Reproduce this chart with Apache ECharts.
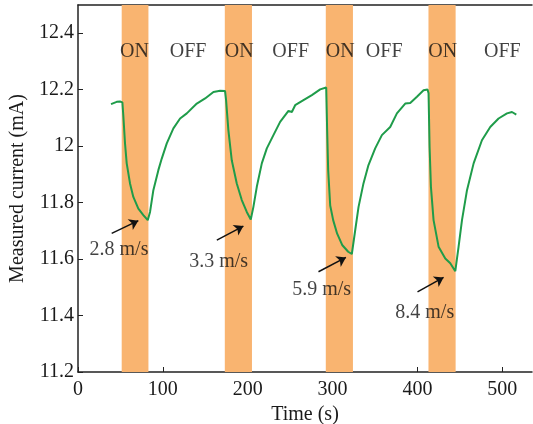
<!DOCTYPE html>
<html>
<head>
<meta charset="utf-8">
<script src="https://cdn.jsdelivr.net/npm/echarts@6/dist/echarts.min.js"></script>
<style>
  html, body { margin: 0; padding: 0; background: #fff; }
  #chart { width: 533px; height: 424px; }
</style>
</head>
<body>
<div id="chart"></div>
<script>
// measured current trace (time in s, current in mA)
const time = [
  38.9, 40.9, 45.6, 49.5, 52.3, 53.5, 55.4, 57.4, 61.3, 65.2, 71.1, 77, 82.2,
  84.9, 88.8, 94.7, 98.7, 104.6, 112.4, 120.3, 128.2, 140, 149.8, 159.6, 167.5, 173.3,
  174.5, 177.2, 181.2, 187.1, 193, 198.9, 203.6,
  206.7, 210.7, 216.6, 222.5, 230.3, 238.2, 248, 252, 255.9, 265.7, 275.6, 285.4, 292.5,
  293.6, 294.8, 297.2, 300.7, 305.4, 311.3, 318.4, 322.7,
  326.7, 330.6, 336.4, 342.3, 350.2, 358.1, 367.9, 375.8, 385.6, 391.5, 399.4, 407.2, 411.9, 413.1,
  414.3, 415.9, 419, 424.9, 432.8, 438.7, 444.6,
  448.5, 452.5, 458.4, 466.2, 476, 485.8, 495.6, 505.5, 511.4, 516.5
]
const current = [
  12.149, 12.153, 12.157, 12.158, 12.155, 12.104, 12.01, 11.939, 11.868, 11.82, 11.779, 11.756, 11.738,
  11.767, 11.844, 11.915, 11.956, 12.01, 12.063, 12.098, 12.116, 12.151, 12.169, 12.192, 12.196, 12.195,
  12.163, 12.057, 11.95, 11.868, 11.809, 11.767, 11.74,
  11.785, 11.856, 11.939, 11.992, 12.039, 12.086, 12.125, 12.121, 12.145, 12.163, 12.181, 12.201, 12.208,
  12.057, 11.915, 11.79, 11.738, 11.69, 11.65, 11.626, 11.618,
  11.703, 11.785, 11.868, 11.933, 11.992, 12.039, 12.068, 12.116, 12.151, 12.153, 12.175, 12.198, 12.201, 12.187,
  11.998, 11.856, 11.738, 11.644, 11.602, 11.585, 11.557,
  11.644, 11.738, 11.844, 11.939, 12.021, 12.068, 12.098, 12.116, 12.121, 12.112
]

// fan ON periods
const onBands = [[51.5, 83], [173, 205], [292, 324], [413, 445]]

// ON / OFF captions [x, y, text]
const stateLabels = [
  [66.6, 12.333, 'ON'], [129.7, 12.333, 'OFF'],
  [189.9, 12.333, 'ON'], [250.6, 12.333, 'OFF'],
  [309, 12.333, 'ON'], [360.8, 12.333, 'OFF'],
  [429.8, 12.333, 'ON'], [500, 12.333, 'OFF']
]

// wind speed captions [x, y, text]
const speedLabels = [
  [48.3, 11.632, '2.8 m/s'],
  [165.7, 11.589, '3.3 m/s'],
  [287.1, 11.49, '5.9 m/s'],
  [408.6, 11.409, '8.4 m/s']
]

// arrows [[x1, y1], [x2, y2]]
const arrows = [
  [[39.7, 11.691], [71.1, 11.736]],
  [[163.6, 11.667], [194.9, 11.717]],
  [[283.4, 11.555], [315.7, 11.606]],
  [[400.1, 11.484], [430.8, 11.535]]
]

const xTicks = { min: 0, max: 535, interval: 100 }
const yTicks = { min: 11.2, max: 12.5, interval: 0.2 }

const font = 'Liberation Serif'
const textColor = '#1a1a1a'

const chart = echarts.init( document.getElementById( 'chart' ) )

const textSeries = ( name, rows ) => ( {
  name : name,
  type : 'scatter',
  z : 5,
  symbolSize : 1,
  itemStyle : { color : 'rgba(0,0,0,0)' },
  silent : true,
  data : rows,
  label : {
    show : true,
    position : 'inside',
    formatter : p => p.data[2],
    fontFamily : font,
    fontSize : 20,
    color : '#111'
  }
} )

chart.setOption( {
  animation : false,
  grid : {
    left : 78,
    right : 1,
    top : 5,
    bottom : 52,
    outerBoundsMode : 'none',
    containLabel : false
  },
  xAxis : [
    {
      type : 'value',
      min : xTicks.min,
      max : xTicks.max,
      interval : xTicks.interval,
      name : 'Time (s)',
      nameLocation : 'middle',
      nameGap : 22,
      nameTextStyle : { fontFamily : font, fontSize : 20, color : textColor },
      axisLine : { lineStyle : { color : '#222', width : 1.5 } },
      axisTick : { inside : true, length : 5, lineStyle : { color : '#222' } },
      axisLabel : {
        showMaxLabel : false,
        margin : 8,
        fontFamily : font,
        fontSize : 20,
        color : textColor
      },
      splitLine : { show : false }
    },
    {
      type : 'value',
      position : 'top',
      min : xTicks.min,
      max : xTicks.max,
      axisLine : { show : true, lineStyle : { color : '#222', width : 1.5 } },
      axisTick : { show : false },
      axisLabel : { show : false },
      splitLine : { show : false }
    }
  ],
  yAxis : {
    type : 'value',
    min : yTicks.min,
    max : yTicks.max,
    interval : yTicks.interval,
    name : 'Measured current (mA)',
    nameLocation : 'middle',
    nameGap : 44,
    nameTextStyle : { fontFamily : font, fontSize : 20, color : textColor },
    axisLine : { show : true, lineStyle : { color : '#222', width : 1.5 } },
    axisTick : { show : true, inside : true, length : 5, lineStyle : { color : '#222' } },
    axisLabel : {
      showMaxLabel : false,
      margin : 4,
      fontFamily : font,
      fontSize : 20,
      color : textColor
    },
    splitLine : { show : false }
  },
  series : [
    {
      name : 'bands',
      type : 'line',
      z : 1,
      data : [],
      markArea : {
        silent : true,
        itemStyle : { color : '#f9b470', opacity : 1 },
        data : onBands.map( b => [{ xAxis : b[0] }, { xAxis : b[1] }] )
      }
    },
    {
      name : 'current',
      type : 'line',
      z : 3,
      showSymbol : false,
      smooth : false,
      data : time.map( ( t, i ) => [t, current[i]] ),
      lineStyle : { color : '#1f9c4a', width : 2 },
      itemStyle : { color : '#1f9c4a' }
    },
    {
      name : 'arrows',
      type : 'line',
      z : 4,
      data : [],
      markLine : {
        silent : true,
        symbol : ['none', 'arrow'],
        symbolSize : 9,
        label : { show : false },
        lineStyle : { color : '#111', width : 1.5, type : 'solid' },
        data : arrows.map( a => [{ coord : a[0] }, { coord : a[1] }] )
      }
    },
    textSeries( 'states', stateLabels ),
    textSeries( 'speeds', speedLabels )
  ]
} )
</script>
</body>
</html>
